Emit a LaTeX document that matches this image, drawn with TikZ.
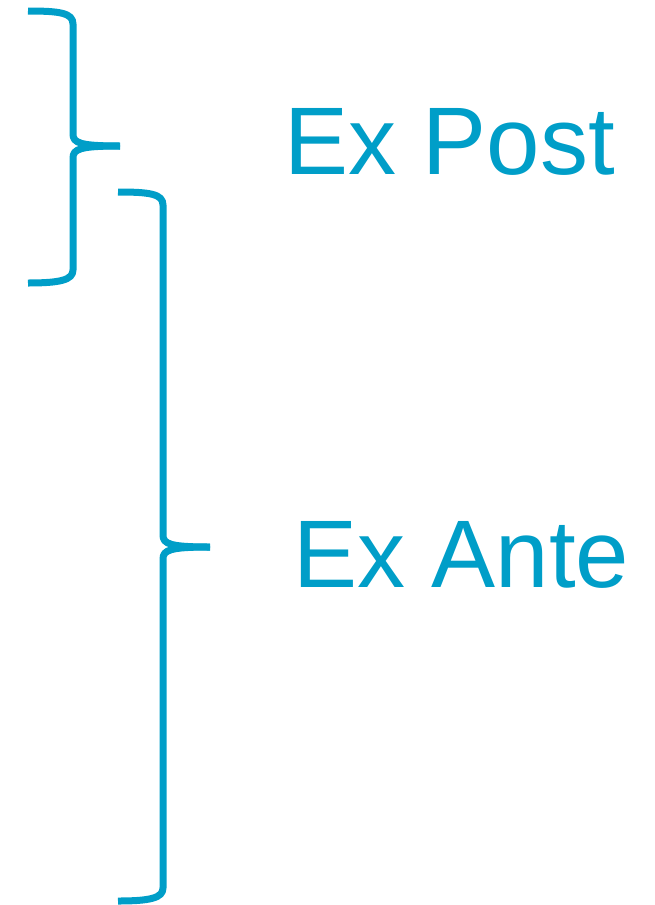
\documentclass[tikz,border=0pt]{standalone}
\usepackage{fontspec}
\setmainfont{Liberation Sans}
\definecolor{bracecol}{RGB}{0,158,200}
\begin{document}
\begin{tikzpicture}[x=1pt,y=-1pt,
  bracepath/.style={draw=bracecol,line width=7pt,line cap=butt,line join=round},
  label/.style={text=bracecol,font=\fontsize{96}{96}\selectfont,inner sep=0pt,anchor=base west}]
\useasboundingbox (0,0) rectangle (654,905);
% upper brace
\coordinate (p1top) at (28,11);
\coordinate (p1tip) at (120,146);
\coordinate (p1bot) at (28,283);
\draw[bracepath] (p1top) .. controls (60,11) and (73,13) .. (73,24) -- (73,134)
  .. controls (73,143) and (80,146) .. (p1tip);
\draw[bracepath] (p1tip) .. controls (80,146) and (73,149) .. (73,158) -- (73,270)
  .. controls (73,280) and (60,283) .. (p1bot);
% lower brace
\coordinate (p2top) at (118,192);
\coordinate (p2tip) at (210,547);
\coordinate (p2bot) at (118,901);
\draw[bracepath] (p2top) .. controls (150,192) and (163,194) .. (163,205) -- (163,535)
  .. controls (163,544) and (170,547) .. (p2tip);
\draw[bracepath] (p2tip) .. controls (170,547) and (163,550) .. (163,559) -- (163,888)
  .. controls (163,898) and (150,901) .. (p2bot);
\node[label] (expost) at (284,174) {Ex Post};
\node[label] (exante) at (293,587) {Ex Ante};
\end{tikzpicture}
\end{document}
